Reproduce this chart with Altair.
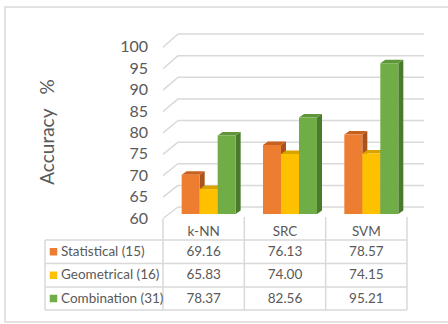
import altair as alt
import pandas as pd

categories = ["k-NN", "SRC", "SVM"]
series_names = ["Statistical (15)", "Geometrical (16)", "Combination (31)"]
statistical = [69.16, 76.13, 78.57]
geometrical = [65.83, 74.00, 74.15]
combination = [78.37, 82.56, 95.21]
y_ticks = [60, 65, 70, 75, 80, 85, 90, 95, 100]
y_title = "Accuracy\u00a0\u00a0\u00a0%"

# ---- layout (pixels -> data units) ----
W, H = 448, 324
PX_U = 81.33   # pixels per category column
X0 = 163       # pixel x of the left edge of the first column
PX_V = 4.28    # pixels per accuracy point
Y60 = 214      # pixel y of the value 60 on the bar fronts
FONT = "Lato"
TXT = "#595959"
GRID = "#D9D9D9"


def ux(px):
    return (px - X0) / PX_U


def vy(px):
    return 60 + (Y60 - px) / PX_V


XMIN, XMAX = ux(0), ux(W)
YMAX, YMIN = vy(0), vy(H)
xs = alt.Scale(domain=[XMIN, XMAX], nice=False, zero=False)
ys = alt.Scale(domain=[YMIN, YMAX], nice=False, zero=False)


def X(f):
    return alt.X(f, type="quantitative", scale=xs, axis=None, stack=None)


def Y(f):
    return alt.Y(f, type="quantitative", scale=ys, axis=None, stack=None)


front_col = dict(zip(series_names, ["#ED7D31", "#FFC000", "#70AD47"]))
top_col = dict(zip(series_names, ["#C8601E", "#D9A300", "#5E9639"]))
side_col = dict(zip(series_names, ["#A9521A", "#BF8F00", "#4A7A2C"]))

values = [statistical, geometrical, combination]
BW = 18 / PX_U
SHIFT = 5 / PX_U
DX = 5 / PX_U
DV = 3.5 / PX_V

fronts, sides, tops = [], [], []
for i, cat in enumerate(categories):
    center = i + 0.5 + SHIFT
    for j, s in enumerate(series_names):
        v = values[j][i]
        l = center - 1.5 * BW + j * BW
        r = l + BW
        b = f"{cat}|{s}"
        fronts.append(dict(x=l, x2=r, y=v, y2=60, c=front_col[s]))
        sides += [dict(b=b, x=r, y=v, y2=60, c=side_col[s]),
                  dict(b=b, x=r + DX, y=v + DV, y2=60 + DV, c=side_col[s])]
        tops += [dict(b=b, y=v, x=l, x2=r, c=top_col[s]),
                 dict(b=b, y=v + DV, x=l + DX, x2=r + DX, c=top_col[s])]

# ---- wall grid lines ----
wall = []
for t in y_ticks:
    yf = vy(218.5 - (t - 60) * 4.28)
    yb = vy(207 - (t - 60) * 4.325)
    wall.append(dict(x=ux(163), y=yf, x2=ux(178), y2=yb))
    wall.append(dict(x=ux(178), y=yb, x2=ux(424), y2=yb))
tick_df = pd.DataFrame(dict(x=[ux(148)] * len(y_ticks), y=y_ticks,
                            t=[str(t) for t in y_ticks]))

# ---- data table lines ----
row_px = [240, 263.5, 287, 310]
tlines = []
for ry in row_px:
    tlines.append(dict(x=ux(45), y=vy(ry), x2=ux(407), y2=vy(ry)))
for k in range(4):
    tlines.append(dict(x=k, y=vy(217 if k else 219), x2=k, y2=vy(310)))
tlines.append(dict(x=ux(45), y=vy(240), x2=ux(45), y2=vy(310)))

header = pd.DataFrame(dict(x=[i + 0.5 for i in range(3)], y=[vy(232)] * 3, t=categories))
cells = []
for j, s in enumerate(series_names):
    yc = vy((row_px[j] + row_px[j + 1]) / 2)
    for i in range(3):
        cells.append(dict(x=i + 0.5, y=yc, t=f"{values[j][i]:.2f}"))
labels = pd.DataFrame([dict(x=ux(61), xs=ux(53.5),
                            y=vy((row_px[j] + row_px[j + 1]) / 2),
                            t=s, c=front_col[s]) for j, s in enumerate(series_names)])

border = pd.DataFrame([dict(x=ux(5), x2=ux(451), y=vy(7), y2=vy(322))])
title_df = pd.DataFrame([dict(x=ux(48), y=vy(132), t=y_title)])

L_border = alt.Chart(border).mark_rect(fillOpacity=0, stroke=GRID, strokeWidth=1.5).encode(
    x=X("x"), x2="x2", y=Y("y"), y2="y2")
L_wall = alt.Chart(pd.DataFrame(wall)).mark_rule(color=GRID, strokeWidth=1.5).encode(
    x=X("x"), x2="x2", y=Y("y"), y2="y2")
L_ticks = alt.Chart(tick_df).mark_text(font=FONT, fontSize=16, color=TXT, align="right",
                                       baseline="middle", dy=4.5).encode(
    x=X("x"), y=Y("y"), text="t:N")
L_tlines = alt.Chart(pd.DataFrame(tlines)).mark_rule(color=GRID, strokeWidth=1.5).encode(
    x=X("x"), x2="x2", y=Y("y"), y2="y2")
L_side = alt.Chart(pd.DataFrame(sides)).mark_area(interpolate="linear").encode(
    x=X("x"), y=Y("y"), y2="y2", detail="b:N", color=alt.Color("c:N", scale=None))
L_top = alt.Chart(pd.DataFrame(tops)).mark_area(orient="horizontal", interpolate="linear").encode(
    y=Y("y"), x=X("x"), x2="x2", detail="b:N", color=alt.Color("c:N", scale=None))
L_front = alt.Chart(pd.DataFrame(fronts)).mark_rect().encode(
    x=X("x"), x2="x2", y=Y("y"), y2="y2", color=alt.Color("c:N", scale=None))
L_header = alt.Chart(header).mark_text(font=FONT, fontSize=13.5, color=TXT).encode(
    x=X("x"), y=Y("y"), text="t:N")
L_cells = alt.Chart(pd.DataFrame(cells)).mark_text(font=FONT, fontSize=13.5, color=TXT).encode(
    x=X("x"), y=Y("y"), text="t:N")
L_lab = alt.Chart(labels).mark_text(font=FONT, fontSize=13.5, color=TXT, align="left").encode(
    x=X("x"), y=Y("y"), text="t:N")
L_sq = alt.Chart(labels).mark_square(size=56, opacity=1).encode(
    x=X("xs"), y=Y("y"), color=alt.Color("c:N", scale=None))
L_title = alt.Chart(title_df).mark_text(font=FONT, fontSize=19, color=TXT, angle=270).encode(
    x=X("x"), y=Y("y"), text="t:N")

chart = alt.layer(L_border, L_wall, L_ticks, L_tlines, L_side, L_top, L_front,
                  L_header, L_cells, L_lab, L_sq, L_title).properties(
    width=W, height=H, padding=0,
    autosize=alt.AutoSizeParams(type="none"),
    background="white",
).configure_view(stroke=None)

chart.save("out.html", embed_options={"renderer": "svg", "actions": False})
